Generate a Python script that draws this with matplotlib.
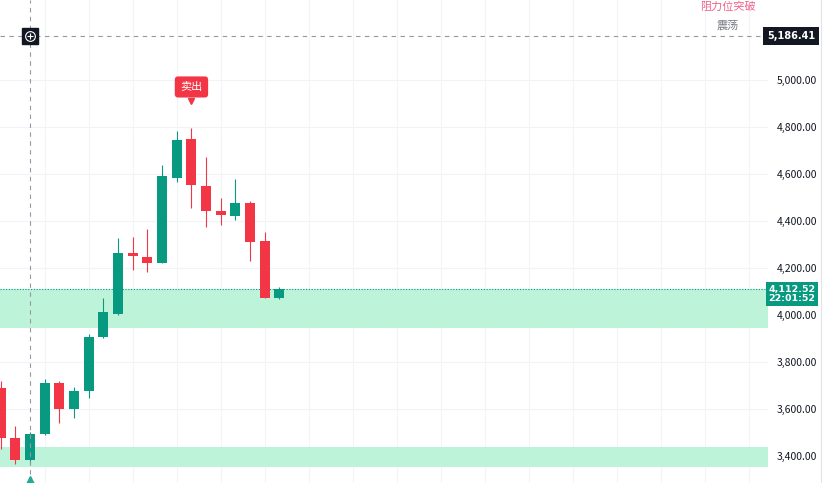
import matplotlib
matplotlib.use("Agg")
import matplotlib.pyplot as plt
from matplotlib.lines import Line2D

plt.rcParams['font.family'] = ['Noto Sans CJK SC', 'DejaVu Sans']

# candle data
opens  = [3691, 3478, 3384, 3495, 3712, 3601, 3678, 3908, 4006, 4262,
          4245, 4220, 4582, 4748, 4548, 4441, 4420, 4475, 4313, 4070]
highs  = [3721, 3529, 3503, 3729, 3721, 3695, 3917, 4070, 4326, 4330,
          4365, 4638, 4783, 4795, 4672, 4497, 4578, 4484, 4352, 4117]
lows   = [3431, 3367, 3367, 3490, 3542, 3563, 3648, 3900, 4000, 4190,
          4181, 4220, 4565, 4454, 4373, 4382, 4403, 4228, 4070, 4066]
closes = [3478, 3384, 3495, 3712, 3601, 3678, 3908, 4011, 4262, 4249,
          4220, 4591, 4744, 4552, 4441, 4424, 4475, 4309, 4070, 4112.52]

zones = [(3945, 4112.52), (3353, 3438)]
yticks = [3400, 3600, 3800, 4000, 4200, 4400, 4600, 4800, 5000]
cross_idx = 2
cross_price = 5186.41
last_price = 4112.52
last_time = "22:01:52"
sell_idx = 13

GREEN = '#089981'
RED = '#f23645'

W, H = 829, 483
fig = plt.figure(figsize=(W / 100, H / 100), dpi=100)
ax = fig.add_axes([0, 0, 768 / W, 1])
ax.set_xlim(-0.05, 52.3)
ax.set_ylim(3285, 5340)

# zones
for lo, hi in zones:
    ax.axhspan(lo, hi, color='#bdf4d9', lw=0, zorder=1)
ax.axhline(last_price, color=GREEN, lw=0.8, ls=(0, (1, 1.5)), zorder=2)

# grid
for t in yticks:
    ax.axhline(t, color='#f0f3fa', lw=0.8, zorder=0)
for gx in range(3, 53, 3):
    ax.axvline(gx, color='#f2f4f9', lw=0.8, zorder=0)

# candles
for i in range(len(opens)):
    o, h, l, c = opens[i], highs[i], lows[i], closes[i]
    col = GREEN if c >= o else RED
    ax.vlines(i, l, h, color=col, lw=0.8, zorder=3)
    body = abs(c - o)
    bottom = min(o, c) if body >= 6 else (o + c) / 2 - 3
    ax.bar(i, max(body, 6), bottom=bottom, width=0.68, color=col, lw=0, zorder=4)

# crosshair
ax.axvline(cross_idx, color='#9598a1', lw=0.8, ls=(0, (4, 4)), zorder=5)
ax.axhline(cross_price, color='#9598a1', lw=0.8, ls=(0, (4, 4)), zorder=5)
ax.plot(cross_idx, cross_price, marker='s', ms=11.5, color='#131722', zorder=6)
ax.plot(cross_idx, cross_price, marker='o', ms=7, mfc='none', mec='white', mew=0.8, zorder=7)
ax.plot(cross_idx, cross_price, marker='+', ms=4.5, mec='white', mew=0.8, zorder=7)
ax.plot(cross_idx, 3292, marker='^', ms=7, color='#22ab94', zorder=7)

# sell label
ax.plot(sell_idx, 4912, marker='v', ms=5, color=RED, zorder=8)
ax.text(sell_idx, 4970, '卖出', color='white', fontsize=8, ha='center', va='center', zorder=9,
        bbox=dict(boxstyle='round,pad=0.5,rounding_size=0.3', fc=RED, ec='none'))

ax.set_yticks(yticks)
ax.set_yticklabels([f"{t:,.2f}" for t in yticks])
ax.yaxis.tick_right()
ax.tick_params(axis='y', length=0, pad=6, labelsize=7.5, labelcolor='#131722')
ax.set_xticks([])
for s in ax.spines.values():
    s.set_visible(False)

# right-axis price boxes
fig.text(791 / W, 1 - 36 / H, f"{cross_price:,.2f}", color='white', fontsize=7, fontweight='bold',
         ha='center', va='center', family='DejaVu Sans',
         bbox=dict(boxstyle='square,pad=0.4', fc='#131722', ec='none'))
fig.text(792 / W, 1 - 294 / H, f"{last_price:,.2f}\n{last_time}", color='white', fontsize=6.8,
         fontweight='bold', ha='center', va='center', linespacing=1.05, family='DejaVu Sans',
         bbox=dict(boxstyle='square,pad=0.3', fc=GREEN, ec='none'))

# top-right labels
fig.text(728 / W, 1 - 7 / H, '阻力位突破', color='#f0628a', fontsize=8, ha='center', va='center')
fig.text(728 / W, 1 - 25 / H, '震荡', color='#787b86', fontsize=8, ha='center', va='center')

fig.add_artist(Line2D([821 / W, 821 / W], [0, 1], color='#e0e3eb', lw=0.8))

fig.savefig('out.png', dpi=100)
